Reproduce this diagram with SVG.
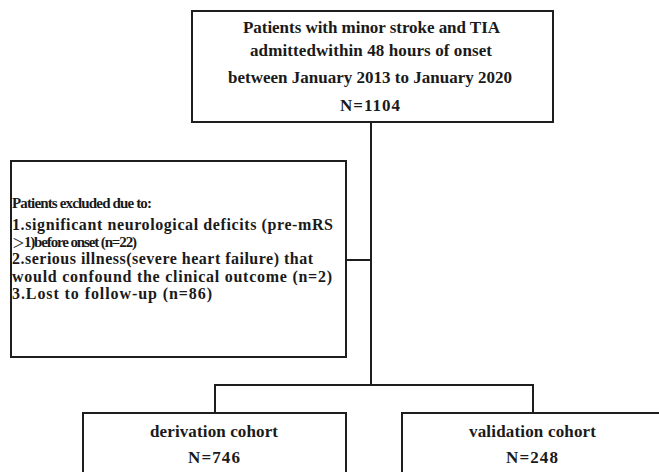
<svg xmlns="http://www.w3.org/2000/svg" width="659" height="472" viewBox="0 0 659 472">
<style>
.box{fill:#fff;stroke:#1e1e1e;stroke-width:2}
.ln{stroke:#1e1e1e;stroke-width:2;fill:none}
.t{font-family:'Liberation Serif','DejaVu Serif',serif;font-weight:bold;fill:#1a1a1a;font-size:16px}
.c{font-size:17px}
.s{font-size:15px}
.cjk{font-family:'Noto Sans CJK SC',sans-serif;font-weight:normal;font-size:13px}
</style>
<rect width="659" height="472" fill="#fff"/>
<g id="connectors">
<line class="ln" x1="371" y1="122" x2="371" y2="386"/>
<line class="ln" x1="346" y1="260" x2="371" y2="260"/>
<polyline class="ln" points="215,413 215,385 533,385 533,413"/>
</g>
<g id="source">
<rect class="box" x="192" y="11" width="361" height="111"/>
<text class="t c" x="243" y="33" textLength="257" lengthAdjust="spacing">Patients with minor stroke and TIA</text>
<text class="t c" x="250" y="56" textLength="242" lengthAdjust="spacing">admittedwithin 48 hours of onset</text>
<text class="t c" x="228" y="83" textLength="284" lengthAdjust="spacing">between January 2013 to January 2020</text>
<text class="t c" x="340" y="111" textLength="60" lengthAdjust="spacing">N=1104</text>
</g>
<g id="excluded">
<rect class="box" x="11" y="161" width="335" height="196"/>
<text class="t s" x="12" y="208" textLength="140" lengthAdjust="spacing">Patients excluded due to:</text>
<text class="t" x="12" y="230" textLength="321" lengthAdjust="spacing">1.significant neurological deficits (pre-mRS</text>
<text class="t s" x="12" y="247" textLength="125" lengthAdjust="spacing"><tspan class="cjk">＞</tspan>1)before onset (n=22)</text>
<text class="t" x="12" y="264" textLength="301" lengthAdjust="spacing">2.serious illness(severe heart failure) that</text>
<text class="t" x="12" y="282" textLength="320" lengthAdjust="spacing">would confound the clinical outcome (n=2)</text>
<text class="t" x="12" y="299" textLength="200" lengthAdjust="spacing">3.Lost to follow-up (n=86)</text>
</g>
<g id="derivation">
<rect class="box" x="83" y="413" width="263" height="80"/>
<text class="t c" x="150" y="437" textLength="128" lengthAdjust="spacing">derivation cohort</text>
<text class="t c" x="188" y="463" textLength="52" lengthAdjust="spacing">N=746</text>
</g>
<g id="validation">
<rect class="box" x="402" y="413" width="262" height="80"/>
<text class="t c" x="469" y="437" textLength="127" lengthAdjust="spacing">validation cohort</text>
<text class="t c" x="506" y="463" textLength="52" lengthAdjust="spacing">N=248</text>
</g>
</svg>
